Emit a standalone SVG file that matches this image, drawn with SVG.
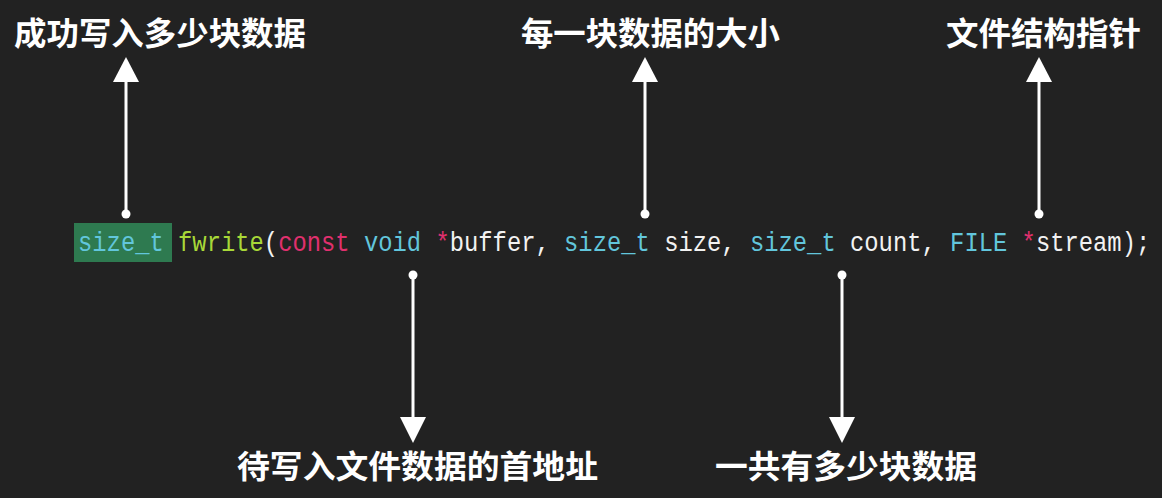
<svg xmlns="http://www.w3.org/2000/svg" width="1162" height="498" viewBox="0 0 1162 498">
<style>
.lbl{font-family:"Noto Sans CJK SC","Noto Sans",sans-serif;font-weight:bold;font-size:32px;fill:#ffffff}
.code text{font-family:"Liberation Mono","DejaVu Sans Mono",monospace;font-size:28px;fill:#f2f2f2}
.code text.ty{fill:#62c6dc}
.code text.fn{fill:#a8d838}
.code text.kw{fill:#e0306e}
.ln{stroke:#ffffff;stroke-width:3;fill:none}
.dot{fill:#ffffff}
.hd{fill:#ffffff}
</style>
<rect width="1162" height="498" fill="#222222"/>
<g id="code">
<rect x="74" y="223" width="98" height="39" fill="#2e7a50"/>
<g class="code" transform="translate(78,0) scale(0.851,1)">
<text class="ty" x="0" y="251">size_t</text>
<text class="fn" x="117.6" y="251">fwrite</text>
<text x="218.4" y="251">(</text>
<text class="kw" x="235.2" y="251">const</text>
<text class="ty" x="336" y="251">void</text>
<text class="kw" x="420" y="251">*</text>
<text x="436.8" y="251">buffer,</text>
<text class="ty" x="571.2" y="251">size_t</text>
<text x="688.8" y="251">size,</text>
<text class="ty" x="789.6" y="251">size_t</text>
<text x="907.2" y="251">count,</text>
<text class="ty" x="1024.8" y="251">FILE</text>
<text class="kw" x="1108.8" y="251">*</text>
<text x="1125.6" y="251">stream);</text>
</g>
</g>
<g id="label-return"><text class="lbl" x="14" y="45" textLength="292" lengthAdjust="spacingAndGlyphs">成功写入多少块数据</text></g>
<g id="label-size"><text class="lbl" x="521" y="45" textLength="259" lengthAdjust="spacingAndGlyphs">每一块数据的大小</text></g>
<g id="label-stream"><text class="lbl" x="946" y="45" textLength="195" lengthAdjust="spacingAndGlyphs">文件结构指针</text></g>
<g id="label-buffer"><text class="lbl" x="237" y="478" textLength="361" lengthAdjust="spacingAndGlyphs">待写入文件数据的首地址</text></g>
<g id="label-count"><text class="lbl" x="715" y="478" textLength="262" lengthAdjust="spacingAndGlyphs">一共有多少块数据</text></g>
<g id="connectors">
<line class="ln" x1="126" y1="214" x2="126" y2="80"/>
<circle class="dot" cx="126" cy="214" r="4.5"/>
<polygon class="hd" points="126,57 139,82 113,82"/>
<line class="ln" x1="645" y1="214" x2="645" y2="80"/>
<circle class="dot" cx="645" cy="214" r="4.5"/>
<polygon class="hd" points="645,57 658,82 632,82"/>
<line class="ln" x1="1039" y1="214" x2="1039" y2="80"/>
<circle class="dot" cx="1039" cy="214" r="4.5"/>
<polygon class="hd" points="1039,57 1052,82 1026,82"/>
<line class="ln" x1="413" y1="275" x2="413" y2="419"/>
<circle class="dot" cx="413" cy="275" r="4.5"/>
<polygon class="hd" points="413,443 426,417 400,417"/>
<line class="ln" x1="842" y1="275" x2="842" y2="419"/>
<circle class="dot" cx="842" cy="275" r="4.5"/>
<polygon class="hd" points="842,443 855,417 829,417"/>
</g>
</svg>
